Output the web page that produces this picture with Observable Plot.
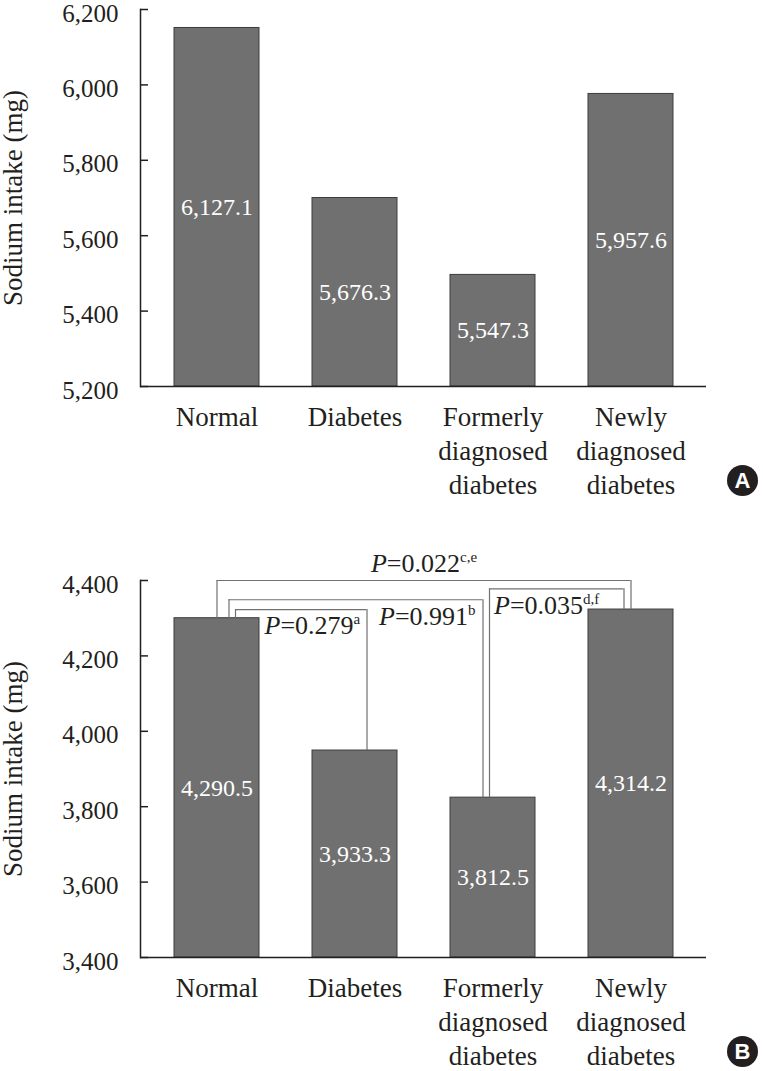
<!DOCTYPE html>
<html><head><meta charset="utf-8">
<script src="https://cdn.jsdelivr.net/npm/d3@7"></script>
<script src="https://cdn.jsdelivr.net/npm/@observablehq/plot@0.6"></script>
<style>
body{margin:0;background:#fff;}
#chart svg{display:block;}
</style></head><body><div id="chart"></div>
<script>
// ---- data ----
const categories = ["Normal", "Diabetes", "Formerly diagnosed diabetes", "Newly diagnosed diabetes"];
const categoryLabels = ["Normal", "Diabetes", "Formerly\ndiagnosed\ndiabetes", "Newly\ndiagnosed\ndiabetes"];
const barValuesA = [6151, 5700, 5496, 5976];
const valueLabelsA = ["6,127.1", "5,676.3", "5,547.3", "5,957.6"];
const ticksA = [5200, 5400, 5600, 5800, 6000, 6200];
const barValuesB = [4300, 3949, 3824, 4323];
const valueLabelsB = ["4,290.5", "3,933.3", "3,812.5", "4,314.2"];
const ticksB = [3400, 3600, 3800, 4000, 4200, 4400];
const compFrom = ["Normal", "Normal", "Formerly diagnosed diabetes", "Normal"];
const compTo = ["Newly diagnosed diabetes", "Formerly diagnosed diabetes", "Newly diagnosed diabetes", "Diabetes"];
const compLevels = [4400, 4349, 4378, 4323];
const compP = ["0.022", "0.991", "0.035", "0.279"];
const compSup = ["c,e", "b", "d,f", "a"];
const yTitle = "Sodium intake (mg)";

// ---- styling (pixels) ----
const SERIF = "'Liberation Serif', 'Times New Roman', serif";
const BAR_FILL = "#707070", BAR_STROKE = "#3d3d3d", INK = "#231f20", BR = "#707070";
const HALF_BW = 42.6;
const bracketStyle = [
  {offL: 0, offR: 0, lx: "Diabetes", ldx: 69, ldy: -17, anchor: "middle"},
  {offL: 12, offR: -10, lx: "Diabetes", ldx: 24, ldy: 17, anchor: "start"},
  {offL: -3.5, offR: -7, lx: "Formerly diagnosed diabetes", ldx: 1, ldy: 17, anchor: "start"},
  {offL: 18.5, offR: 12, lx: "Normal", ldx: 47.5, ldy: 16, anchor: "start"}
];

const labelOf = new Map(categories.map((c, i) => [c, categoryLabels[i]]));

function makePanel({values, labels, ticks, height, marginTop, marginBottom, letter, comps}) {
  const base = ticks[0];
  const data = categories.map((c, i) => ({cat: c, value: values[i], label: labels[i]}));
  const top = new Map(data.map(d => [d.cat, d.value]));
  const marks = [
    Plot.barY(data, {x: "cat", y1: base, y2: "value", fill: BAR_FILL, stroke: BAR_STROKE, strokeWidth: 1}),
    Plot.text(data, {x: "cat", y: d => (base + d.value) / 2, text: "label", fill: "white", fontSize: 24, fontFamily: SERIF}),
    Plot.frame({anchor: "left", stroke: INK, strokeWidth: 1.5}),
    Plot.ruleY([base], {stroke: INK, strokeWidth: 1.5}),
    Plot.axisY({ticks, tickSize: -8, tickPadding: 30, tickFormat: d3.format(","), fontSize: 25, fontFamily: SERIF, label: null, stroke: INK, strokeWidth: 1.5}),
    Plot.axisY({ticks, tickSize: 0, tickPadding: 22, tickFormat: () => "", label: null, stroke: null}),
    Plot.axisX({tickSize: 0, tickPadding: 16, tickFormat: d => labelOf.get(d), lineHeight: 1.25, fontSize: 27, fontFamily: SERIF, label: null}),
    Plot.text([yTitle], {frameAnchor: "left", dx: -127, rotate: -90, text: d => d, textAnchor: "middle", lineAnchor: "middle", fontSize: 27, fontFamily: SERIF}),
    Plot.dot([letter], {frameAnchor: "bottom-right", dx: 36, dy: 94, r: 15.5, fill: INK, stroke: null}),
    Plot.text([letter], {frameAnchor: "bottom-right", dx: 36, dy: 94, text: d => d, textAnchor: "middle", lineAnchor: "middle", fill: "white", fontFamily: "'Liberation Sans', Arial, sans-serif", fontWeight: "bold", fontSize: 22})
  ];
  if (comps) {
    comps.forEach((b, i) => {
      const s = bracketStyle[i];
      marks.push(
        Plot.ruleX([b], {x: "from", y1: d => top.get(d.from), y2: "level", dx: s.offL, stroke: BR, strokeWidth: 1.2}),
        Plot.ruleX([b], {x: "to", y1: d => top.get(d.to), y2: "level", dx: s.offR, stroke: BR, strokeWidth: 1.2}),
        Plot.ruleY([b], {y: "level", x1: "from", x2: "to", insetLeft: HALF_BW + s.offL, insetRight: HALF_BW - s.offR, stroke: BR, strokeWidth: 1.2}),
        Plot.text([b], {x: () => s.lx, y: "level", text: d => `P=${d.p}^${d.sup}`, dx: s.ldx, dy: s.ldy, textAnchor: s.anchor, fontSize: 26, fontFamily: SERIF})
      );
    });
  }
  const svg = Plot.plot({
    width: 763, height, marginLeft: 140, marginRight: 57, marginTop, marginBottom,
    style: {fontFamily: SERIF, fontSize: "26px", color: INK, background: "white", overflow: "visible"},
    x: {domain: categories, paddingInner: 0.387, paddingOuter: 0.23, axis: null},
    y: {domain: [ticks[0], ticks[ticks.length - 1]], axis: null},
    marks
  });
  // nudge y tick labels slightly below their ticks, as in the reference
  svg.querySelectorAll("g[aria-label='y-axis tick label']").forEach(g => {
    const tr = g.getAttribute("transform") || "";
    g.setAttribute("transform", tr + " translate(0,4)");
  });
  // superscripts for P values
  const ns = "http://www.w3.org/2000/svg";
  svg.querySelectorAll("text").forEach(t => {
    const m = /^P=([\d.]+)\^(.+)$/.exec(t.textContent);
    if (!m) return;
    t.textContent = "";
    const mk = (txt, attrs) => { const e = document.createElementNS(ns, "tspan"); e.textContent = txt; for (const k in attrs) e.setAttribute(k, attrs[k]); t.appendChild(e); };
    mk("P", {"font-style": "italic"});
    mk("=" + m[1], {});
    mk(m[2], {"font-size": "15", dy: "-10"});
  });
  return svg;
}

const comps = compFrom.map((f, i) => ({from: f, to: compTo[i], level: compLevels[i], p: compP[i], sup: compSup[i]}));
const root = document.getElementById("chart");
root.appendChild(makePanel({values: barValuesA, labels: valueLabelsA, ticks: ticksA, height: 535, marginTop: 9, marginBottom: 149, letter: "A"}));
root.appendChild(makePanel({values: barValuesB, labels: valueLabelsB, ticks: ticksB, height: 536, marginTop: 45, marginBottom: 114, letter: "B", comps}));
</script></body></html>
